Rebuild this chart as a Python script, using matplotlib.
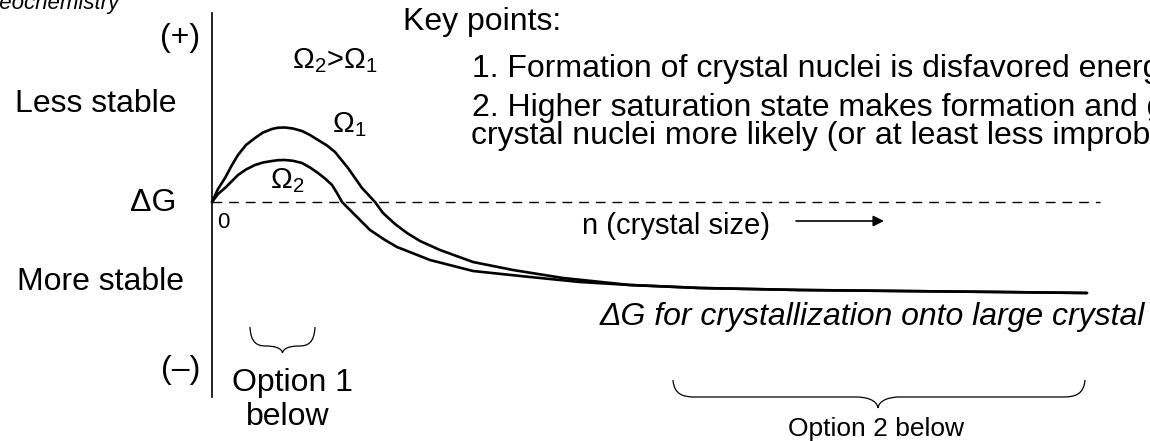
import matplotlib
matplotlib.use("Agg")
import matplotlib.pyplot as plt
from matplotlib.path import Path
from matplotlib.patches import PathPatch

# ---------------- data (arbitrary units: n = crystal size, dG = free energy) -------------
n_omega1 = [0, 6, 13, 20, 26, 34, 43, 51, 60, 66, 73, 81, 90, 98, 106, 115, 123, 136, 150,
            163, 171, 183, 195, 208, 228, 261, 301, 351, 418, 488, 588, 688, 788, 875]
dG_omega1 = [0, 13, 24, 37, 47, 57, 64, 69.5, 73, 74.3, 74.5, 73.5, 71, 67, 62, 56.5, 50,
             34, 14, 0, -11, -22, -31, -39, -48, -60, -68, -76, -83, -86, -88, -89, -90, -91]

n_omega2 = [0, 6, 13, 20, 26, 34, 43, 51, 60, 66, 73, 81, 90, 98, 106, 113, 120, 125, 130,
            141, 158, 173, 185, 218, 261, 318, 368, 418, 488, 588, 688, 788, 875]
dG_omega2 = [0, 8, 14, 21, 27, 32.5, 37, 39.5, 41, 41.8, 42, 41.2, 39, 34.5, 29, 23.5, 17,
             9, 0, -11, -28, -38, -45, -58, -69, -75, -80, -83, -86, -88, -89, -90, -91]

curve_labels = [r"$\Omega_1$", r"$\Omega_2$"]
key_title = "Key points:"
key_lines = ["1. Formation of crystal nuclei is disfavored energetically",
             "2. Higher saturation state makes formation and growth of",
             "crystal nuclei more likely (or at least less improbable)"]

# ---------------- style ----------------
plt.rcParams["font.family"] = ["Liberation Sans", "DejaVu Sans"]
plt.rcParams["mathtext.fontset"] = "custom"
plt.rcParams["mathtext.rm"] = "Liberation Sans"
plt.rcParams["mathtext.it"] = "Liberation Sans:italic"
plt.rcParams["mathtext.bf"] = "Liberation Sans:bold"

W, H = 1150, 441
X0, Y0 = 212, 202   # pixel position of the origin


def P(x, y):
    """pixel position -> data coordinates"""
    return x - X0, Y0 - y


fig = plt.figure(figsize=(W / 100, H / 100), dpi=100)
ax = fig.add_axes([0, 0, 1, 1])
ax.set_xlim(-X0, W - X0)
ax.set_ylim(Y0 - H, Y0)
ax.axis("off")

# curves
ax.plot(n_omega1, dG_omega1, color="black", lw=1.9, solid_joinstyle="round",
        solid_capstyle="round")
ax.plot(n_omega2, dG_omega2, color="black", lw=1.9, solid_joinstyle="round",
        solid_capstyle="round")

# vertical axis and dashed zero line
ax.plot(*zip(P(212, 13), P(212, 397)), color="black", lw=1.2)
ax.plot(*zip(P(212, 202), P(1100, 202)), color="black", lw=1.0, dashes=(7, 5))

big = 23
# left labels
ax.text(*P(200, 38), "(+)", fontsize=big, ha="right", va="center")
ax.text(*P(15, 112), "Less stable", fontsize=big, ha="left", va="baseline")
ax.text(*P(176, 211), "\u0394G", fontsize=big, ha="right", va="baseline")
ax.text(*P(17, 290), "More stable", fontsize=big, ha="left", va="baseline")
ax.text(*P(200, 370), "(\u2013)", fontsize=big, ha="right", va="center")

# top-left cut title
ax.text(*P(-17, 9), "Geochemistry", fontsize=16, style="italic",
        ha="left", va="baseline")

# omega labels
ax.text(*P(292, 61), r"$\Omega_2$" + ">" + r"$\Omega_1$", fontsize=21,
        ha="left", va="center")
ax.text(*P(332, 125), curve_labels[0], fontsize=21, ha="left", va="center")
ax.text(*P(270, 181), curve_labels[1], fontsize=21, ha="left", va="center")

# origin label
ax.text(*P(217, 212), "0", fontsize=16, ha="left", va="top")

# key points
ax.text(*P(403, 30), key_title, fontsize=big, ha="left", va="baseline")
ax.text(*P(472, 77), key_lines[0], fontsize=big, ha="left", va="baseline")
ax.text(*P(472, 116), key_lines[1], fontsize=big, ha="left", va="baseline")
ax.text(*P(471, 144), key_lines[2], fontsize=big, ha="left", va="baseline")

# x axis label with arrow
ax.text(*P(582, 234), "n (crystal size)", fontsize=21, ha="left", va="baseline")
ax.annotate("", xy=P(884, 221), xytext=P(796, 221),
            arrowprops=dict(arrowstyle="-|>", color="black", lw=1.2,
                            mutation_scale=16, shrinkA=0, shrinkB=0))

# large crystal label
ax.text(*P(1145, 325), "\u0394G for crystallization onto large crystal",
        fontsize=big, style="italic", ha="right", va="baseline")


# braces
def brace(x0, x1, xc, ytop, ymid, ytip, r):
    verts = [P(x0, ytop),
             P(x0 + 0.05 * r, ytop + 0.85 * (ymid - ytop)), P(x0 + 0.45 * r, ymid), P(x0 + r, ymid),
             P(xc - r, ymid),
             P(xc - 0.55 * r, ymid), P(xc - 0.05 * r, ymid + 0.25 * (ytip - ymid)), P(xc, ytip),
             P(xc + 0.05 * r, ymid + 0.25 * (ytip - ymid)), P(xc + 0.55 * r, ymid), P(xc + r, ymid),
             P(x1 - r, ymid),
             P(x1 - 0.45 * r, ymid), P(x1 - 0.05 * r, ytop + 0.85 * (ymid - ytop)), P(x1, ytop)]
    codes = [Path.MOVETO,
             Path.CURVE4, Path.CURVE4, Path.CURVE4,
             Path.LINETO,
             Path.CURVE4, Path.CURVE4, Path.CURVE4,
             Path.CURVE4, Path.CURVE4, Path.CURVE4,
             Path.LINETO,
             Path.CURVE4, Path.CURVE4, Path.CURVE4]
    ax.add_patch(PathPatch(Path(verts, codes), fill=False, lw=0.9, color="black"))


brace(250, 315, 282.5, 327, 346, 353, 16)
brace(673, 1085, 878, 380, 397, 408, 22)

# option labels
ax.text(*P(293, 391), "Option 1", fontsize=big, ha="center", va="baseline")
ax.text(*P(288, 425), "below", fontsize=big, ha="center", va="baseline")
ax.text(*P(876, 436), "Option 2 below", fontsize=19, ha="center", va="baseline")

fig.savefig("out.png", dpi=100)
